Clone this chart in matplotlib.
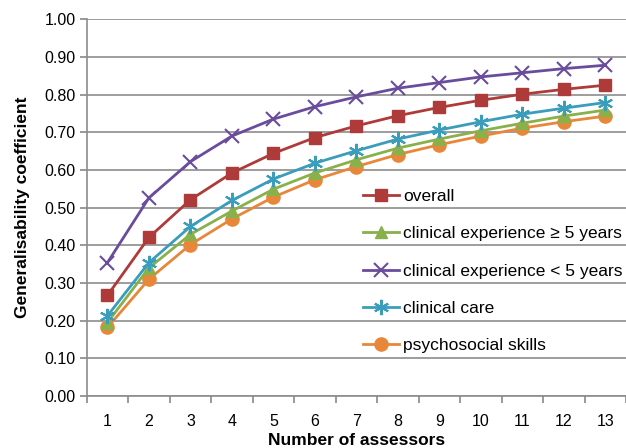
import matplotlib
matplotlib.use('Agg')
import matplotlib.pyplot as plt
import numpy as np

plt.rcParams['font.family'] = ['Liberation Sans', 'DejaVu Sans']

# number of assessors
assessors = list(range(1, 14))

# generalisability coefficients
overall = [0.267, 0.421, 0.521, 0.592, 0.644, 0.686, 0.717, 0.744, 0.766, 0.785, 0.801, 0.814, 0.825]
exp_ge5 = [0.195, 0.340, 0.429, 0.491, 0.549, 0.592, 0.627, 0.658, 0.682, 0.704, 0.724, 0.743, 0.759]
exp_lt5 = [0.354, 0.526, 0.622, 0.690, 0.735, 0.768, 0.794, 0.817, 0.832, 0.847, 0.858, 0.869, 0.878]
clin_care = [0.213, 0.354, 0.450, 0.519, 0.576, 0.618, 0.651, 0.682, 0.706, 0.728, 0.748, 0.764, 0.779]
psychosocial = [0.182, 0.310, 0.402, 0.470, 0.528, 0.574, 0.609, 0.641, 0.667, 0.690, 0.711, 0.728, 0.743]

fig = plt.figure(figsize=(6.26, 4.48), dpi=100)
ax = fig.add_axes([0.1385, 0.116, 0.8615, 0.841])

lw = 2.0
ax.plot(assessors, overall, color='#AE3B3A', lw=lw, marker='s', ms=9, label='overall', zorder=5)
ax.plot(assessors, exp_ge5, color='#88B04B', lw=lw, marker='^', ms=8, label='clinical experience \u2265 5 years', zorder=3)
ax.plot(assessors, exp_lt5, color='#6A4C9C', lw=lw, marker='x', ms=10, mew=1.5, label='clinical experience < 5 years', zorder=4)
ax.plot(assessors, clin_care, color='#3A9DBB', lw=lw, marker=(6, 2, 0), ms=11, mew=1.5, label='clinical care', zorder=3)
ax.plot(assessors, psychosocial, color='#E8873A', lw=lw, marker='o', ms=9.5, label='psychosocial skills', zorder=2)

ax.set_xlim(0.5, 13.5)
ax.set_ylim(0, 1.0)
ax.set_yticks(np.arange(0, 1.01, 0.1))
ax.set_yticklabels([f'{v:.2f}' for v in np.arange(0, 1.01, 0.1)])
ax.set_xticks(assessors)
ax.set_xticks(np.arange(0.5, 13.6, 1), minor=True)
ax.tick_params(axis='x', which='major', length=0, pad=13, labelsize=11.5)
ax.tick_params(axis='x', which='minor', length=5, color='#888888', width=1.2)
ax.tick_params(axis='y', length=5, color='#888888', width=1.2, labelsize=11.5, pad=3)
ax.grid(axis='y', color='#8c8c8c', lw=1.2)
ax.set_axisbelow(True)
for s in ['top', 'right']:
    ax.spines[s].set_visible(False)
for s in ['left', 'bottom']:
    ax.spines[s].set_color('#8c8c8c')
    ax.spines[s].set_linewidth(1.2)

ax.set_xlabel('Number of assessors', fontsize=12.5, fontweight='bold', labelpad=3)
ax.set_ylabel('Generalisability coefficient', fontsize=12.5, fontweight='bold', labelpad=10)

ax.legend(loc='upper left', bbox_to_anchor=(0.512, 0.55), frameon=False, fontsize=12.5,
          borderpad=0, borderaxespad=0, handlelength=2.1, handletextpad=0.2, labelspacing=1.28)

fig.savefig('out.png', dpi=100)
